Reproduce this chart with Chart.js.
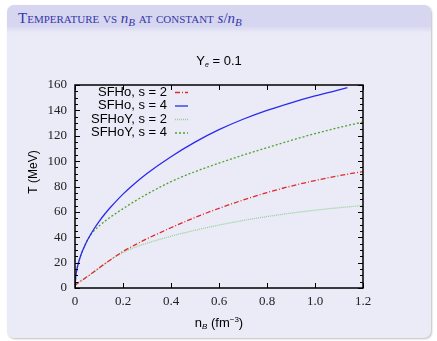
<!DOCTYPE html>
<html>
<head>
<meta charset="utf-8">
<script src="https://cdn.jsdelivr.net/npm/chart.js@4"></script>
<style>
html, body { margin: 0; padding: 0; background: #fff; }
#cadre { position: absolute; left: 7px; top: 5px; width: 424px; height: 333px; border-radius: 7px; background: #ebebf7; box-shadow: 1px 1px 2px rgba(0,0,0,0.25); overflow: hidden; }
#bandeau { position: absolute; left: 0; top: 0; right: 0; height: 28px; background: linear-gradient(#d6d6f1 0, #d6d6f1 21px, #ebebf7 28px); }
#titre { position: absolute; left: 11px; top: 5px; font-family: "Liberation Serif", serif; font-size: 15px; color: #3636a8; font-variant: small-caps; white-space: nowrap; }
#titre i { font-variant: normal; }
#titre sub { font-size: 11px; vertical-align: -3px; }
#graph { position: absolute; left: 0; top: 0; }
</style>
</head>
<body>
<div id="cadre"><div id="bandeau"></div>
<div id="titre">Temperature vs <i>n</i><sub><i>B</i></sub> at constant <i>s</i>/<i>n</i><sub><i>B</i></sub></div></div>
<canvas id="graph" width="437" height="341"></canvas>
<script>
// densité baryonique (fm^-3)
const nB = [0, 0.003, 0.00625, 0.0125, 0.025, 0.0375, 0.05, 0.0625, 0.075, 0.1, 0.125, 0.15, 0.2, 0.25, 0.3, 0.4, 0.5, 0.6, 0.7, 0.8, 0.9, 1.0, 1.1, 1.2];
const nBHo4 = [0, 0.003, 0.00625, 0.0125, 0.025, 0.0375, 0.05, 0.0625, 0.075, 0.1, 0.125, 0.15, 0.2, 0.25, 0.3, 0.4, 0.5, 0.6, 0.7, 0.8, 0.9, 1.0, 1.1, 1.135];
// températures (MeV)
const tHo2 = [2, 2.5, 3, 3.9, 5.6, 7.2, 8.8, 10.5, 12.2, 15.7, 19.2, 22.5, 28.8, 34, 38.8, 47.5, 55.6, 62.8, 69.3, 75.2, 80.3, 84.7, 88.5, 91.8];
const tHo4 = [0, 9, 13, 18.5, 26.2, 32, 37, 41.3, 45.3, 52.3, 58.5, 64, 74, 82.6, 90.3, 103.5, 115, 124.8, 133, 140, 146, 151.4, 156.2, 158];
const tHoY2 = [2, 2.5, 3, 3.9, 5.6, 7.2, 8.8, 10.5, 12.2, 15.7, 19.2, 22.5, 27.9, 32.1, 35.3, 40.8, 45.5, 49.6, 53.2, 56.3, 59, 61.3, 63.3, 65];
const tHoY4 = [0, 9, 13, 18.5, 26.2, 32, 37, 41, 44.2, 48.8, 52.7, 56.2, 62.5, 68.5, 74, 83.8, 91.7, 98.4, 104.7, 110.6, 116.3, 121.7, 126.5, 130.8];
const labels = ["SFHo, s = 2", "SFHo, s = 4", "SFHoY, s = 2", "SFHoY, s = 4"];

function points(xs, ys) {
	return xs.map((x, i) => ({x: x, y: ys[i]}));
}

function texteRiche(ctx, morceaux, cx, cy) {
	let largeur = 0;
	for (let m of morceaux) {
		ctx.font = m.font;
		largeur += ctx.measureText(m.t).width;
	}
	let x = cx - largeur / 2;
	ctx.textAlign = "left";
	ctx.textBaseline = "alphabetic";
	for (let m of morceaux) {
		ctx.font = m.font;
		ctx.fillText(m.t, x, cy + (m.dy || 0));
		x += ctx.measureText(m.t).width;
	}
}

const decor = {
	id: "decor",
	afterDraw(chart) {
		const ctx = chart.ctx;
		const a = chart.chartArea;
		const x = chart.scales.x;
		const y = chart.scales.y;
		ctx.save();
		ctx.strokeStyle = "#000";
		ctx.lineWidth = 1;
		ctx.beginPath();
		for (let v = 0; v <= 160; v += 5) {
			const py = Math.round(y.getPixelForValue(v)) + 0.5;
			const l = v % 20 == 0 ? 5 : 3;
			ctx.moveTo(a.left, py); ctx.lineTo(a.left + l, py);
			ctx.moveTo(a.right, py); ctx.lineTo(a.right - l, py);
		}
		for (let v = 0; v <= 6; v++) {
			const px = Math.round(x.getPixelForValue(v * 0.2)) + 0.5;
			ctx.moveTo(px, a.bottom); ctx.lineTo(px, a.bottom - 5);
			ctx.moveTo(px, a.top); ctx.lineTo(px, a.top + 5);
		}
		ctx.stroke();
		ctx.lineWidth = 1.5;
		ctx.strokeRect(a.left, a.top, a.right - a.left, a.bottom - a.top);

		// légende
		chart.data.datasets.forEach((ds, i) => {
			const ly = a.top + 7 + i * 13.5;
			ctx.font = '13px "Liberation Sans"';
			ctx.fillStyle = "#000";
			ctx.textAlign = "right";
			ctx.textBaseline = "middle";
			ctx.fillText(ds.label, a.left + 92, ly);
			ctx.strokeStyle = ds.borderColor;
			ctx.lineWidth = 1.3;
			ctx.setLineDash(ds.borderDash);
			ctx.beginPath();
			ctx.moveTo(a.left + 100, ly + 0.5);
			ctx.lineTo(a.left + 113, ly + 0.5);
			ctx.stroke();
			ctx.setLineDash([]);
		});

		// titres
		ctx.fillStyle = "#000";
		const cx = (a.left + a.right) / 2;
		texteRiche(ctx, [
			{t: "Y", font: '13px "Liberation Sans"'},
			{t: "e", font: 'italic 7px "Liberation Sans"', dy: 2},
			{t: " = 0.1", font: '13px "Liberation Sans"'}
		], cx, 65);
		texteRiche(ctx, [
			{t: "n", font: '13px "Liberation Sans"'},
			{t: "B", font: 'italic 8px "Liberation Sans"', dy: 2},
			{t: " (fm", font: '13px "Liberation Sans"'},
			{t: "\u22123", font: '8px "Liberation Sans"', dy: -5},
			{t: ")", font: '13px "Liberation Sans"'}
		], cx, 327);
		ctx.translate(37, 172);
		ctx.rotate(-Math.PI / 2);
		texteRiche(ctx, [{t: "T (MeV)", font: '12px "Liberation Sans"'}], 0, 0);
		ctx.restore();
	}
};

const config = {
	type: "line",
	data: {
		datasets: [{
			label: labels[0],
			data: points(nB, tHo2),
			borderColor: "#dd2a2a",
			borderDash: [5, 2, 1, 2],
		}, {
			label: labels[1],
			data: points(nBHo4, tHo4),
			borderColor: "#2a2aee",
			borderDash: [],
		}, {
			label: labels[2],
			data: points(nB, tHoY2),
			borderColor: "#95cf95",
			borderDash: [1, 1],
		}, {
			label: labels[3],
			data: points(nB, tHoY4),
			borderColor: "#4ea42a",
			borderDash: [2, 2],
		}],
	},
	options: {
		responsive: false,
		animation: false,
		devicePixelRatio: 1,
		layout: {padding: {left: 0, top: 85, right: 74, bottom: 0}},
		elements: {
			point: {radius: 0},
			line: {borderWidth: 1.3, cubicInterpolationMode: "monotone", fill: false},
		},
		plugins: {legend: {display: false}, title: {display: false}, tooltip: {enabled: false}},
		scales: {
			x: {
				type: "linear", min: 0, max: 1.2,
				grid: {display: false, drawTicks: false},
				border: {display: false},
				ticks: {stepSize: 0.2, padding: 6, color: "#222", font: {family: "Liberation Serif", size: 13}},
				afterFit: s => { s.height = 53; },
			},
			y: {
				min: 0, max: 160,
				grid: {display: false, drawTicks: false},
				border: {display: false},
				ticks: {stepSize: 20, padding: 8, color: "#222", font: {family: "Liberation Serif", size: 13}},
				afterFit: s => { s.width = 75; },
			},
		},
	},
	plugins: [decor],
};

const graphique = new Chart(document.querySelector("#graph"), config);
</script>
</body>
</html>
